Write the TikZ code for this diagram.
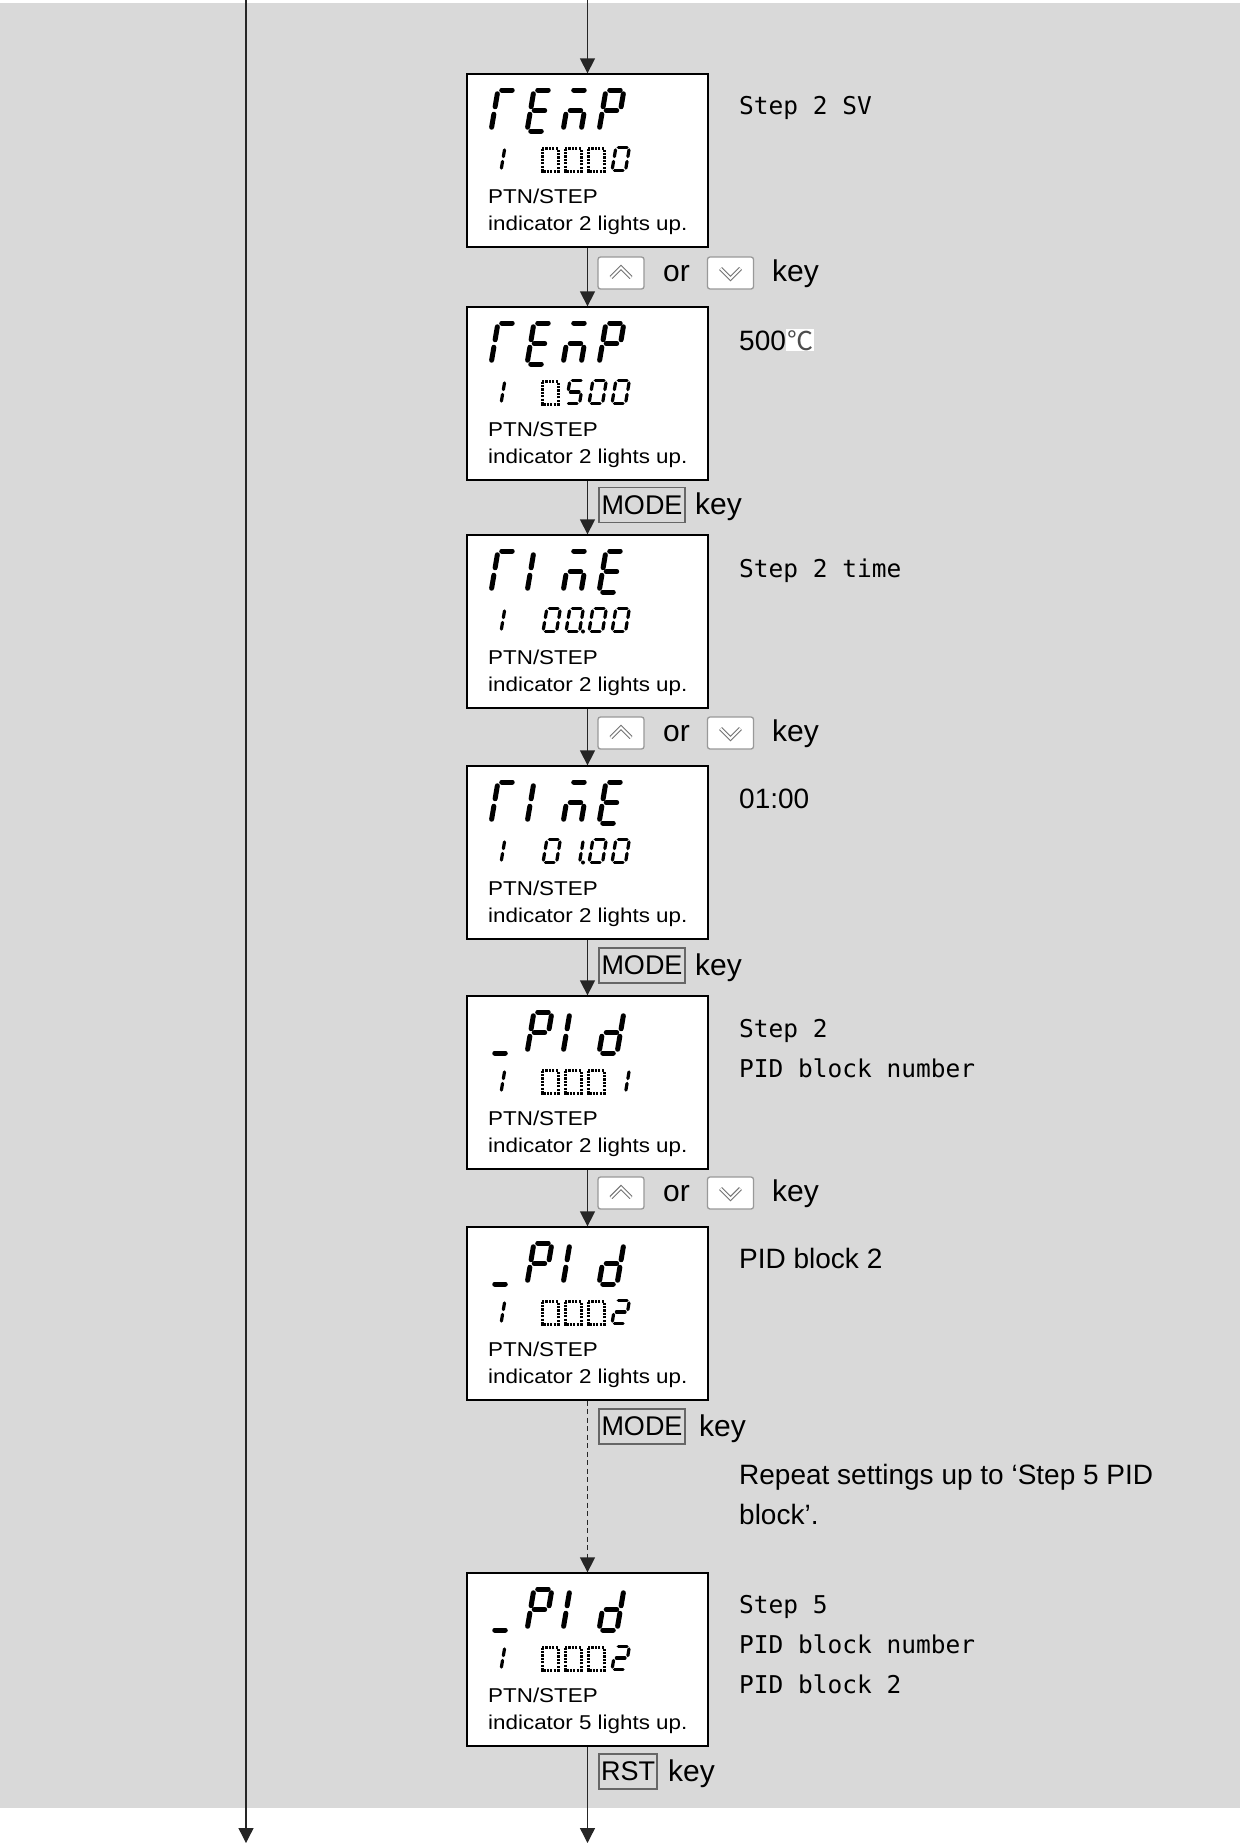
\documentclass[tikz,border=0pt]{standalone}
\usepackage{fontspec}
\setmainfont{Liberation Sans}
\newfontfamily\goth{DejaVu Sans Mono}
\newfontfamily\cjk{Noto Sans CJK JP}
\newfontfamily\boxf[FakeStretch=1.12]{Liberation Sans}
\usetikzlibrary{arrows.meta}
\definecolor{bggray}{HTML}{D9D9D9}

\def\segA{\draw (\G,-\H) -- (\W-\G,-\H);}
\def\segB{\draw (\W,-\H+\G) -- (\W,-\H/2-\G);}
\def\segC{\draw (\W,-\H/2+\G) -- (\W,-\G);}
\def\segD{\draw (\G,0) -- (\W-\G,0);}
\def\segE{\draw (0,-\G) -- (0,-\H/2+\G);}
\def\segF{\draw (0,-\H/2-\G) -- (0,-\H+\G);}
\def\segG{\draw (\G,-\H/2) -- (\W-\G,-\H/2);}
% x, y(bottom), width, height, thickness, segments
\newcommand\sevseg[6]{%
  \begin{scope}[shift={(#1,#2)},xslant=0.17,line width=#5pt,line cap=round]
    \def\W{#3}\def\H{#4}\pgfmathsetmacro\G{#5*0.75}%
    \foreach \s in {#6}{\csname seg\s\endcsname}
  \end{scope}}
\newcommand\bigch[2]{\sevseg{#1}{57}{18}{41}{5}{#2}}
\newcommand\smch[2]{\sevseg{#1}{96.5}{13.5}{23}{3.2}{#2}}
\newcommand\dotbox[1]{\draw[dotb] (#1+1,74.5) rectangle ++(16,22.5);}
\newcommand\dpt[1]{\fill (#1,96.5) circle[radius=2pt];}
\newcommand\boxtexts[1]{%
  \node[boxtxt] at (21,129) {PTN/STEP};
  \node[boxtxt] at (21,156) {indicator #1 lights up.};}

\tikzset{
  lcd/.style={draw=black, line width=1.3pt, fill=white, minimum width=241pt,
    minimum height=173pt, inner sep=0pt},
  arr/.style={draw=black!85, line width=1.3pt, -{Triangle[width=15pt,length=15pt]}},
  dotb/.style={line width=3pt, dash pattern=on 2.2pt off 1.2pt},
  boxtxt/.style={anchor=base west, inner sep=0pt, font=\boxf\fontsize{20pt}{20pt}\selectfont},
  rtxt/.style={anchor=base west, inner sep=0pt, font=\fontsize{28pt}{28pt}\selectfont},
  gtxt/.style={anchor=base west, inner sep=0pt, font=\goth\fontsize{24.5pt}{24.5pt}\selectfont},
  ktxt/.style={anchor=base west, inner sep=0pt, font=\fontsize{30pt}{30pt}\selectfont},
  keybox/.style={draw=black!40, fill=white, rounded corners=2.5pt, line width=1.3pt,
    minimum width=46pt, minimum height=32pt, inner sep=0pt},
  chev/.style={sharp corners, draw=black!55, line width=1.1pt, double=white,
    double distance=1.8pt, line join=miter},
  upkey/.style={keybox, path picture={\draw[chev]
    ([shift={(-10pt,-4.5pt)}]path picture bounding box.center) --
    ([shift={(0pt,5.5pt)}]path picture bounding box.center) --
    ([shift={(10pt,-4.5pt)}]path picture bounding box.center);}},
  downkey/.style={keybox, path picture={\draw[chev]
    ([shift={(-10pt,4.5pt)}]path picture bounding box.center) --
    ([shift={(0pt,-5.5pt)}]path picture bounding box.center) --
    ([shift={(10pt,4.5pt)}]path picture bounding box.center);}},
  modekey/.style={draw=black!60, fill=bggray, line width=1.5pt, inner sep=0pt,
    minimum height=35pt, font=\fontsize{27pt}{27pt}\selectfont},
}

\begin{document}
\begin{tikzpicture}[x=1pt,y=-1pt]
\useasboundingbox (0,0) rectangle (1240,1845);
\fill[white] (0,0) rectangle (1240,1845);
\fill[bggray] (0,3) rectangle (1240,1808);

% boxes
\node[lcd] (b1) at (587.5,160.5) {};
\node[lcd] (b2) at (587.5,393.5) {};
\node[lcd] (b3) at (587.5,621.5) {};
\node[lcd] (b4) at (587.5,852.5) {};
\node[lcd] (b5) at (587.5,1082.5) {};
\node[lcd] (b6) at (587.5,1313.5) {};
\node[lcd] (b7) at (587.5,1659.5) {};

% box 1: TEMP 1 0000
\begin{scope}[shift={(467,74)}]
  \bigch{24}{A,E,F}\bigch{60}{A,D,E,F,G}\bigch{96}{A,G,E,C}\bigch{132}{A,B,E,F,G}
  \smch{34}{E,F}
  \dotbox{74}\dotbox{97}\dotbox{120}\smch{145}{A,B,C,D,E,F}
  \boxtexts{2}
\end{scope}
% box 2: TEMP 1 0500
\begin{scope}[shift={(467,307)}]
  \bigch{24}{A,E,F}\bigch{60}{A,D,E,F,G}\bigch{96}{A,G,E,C}\bigch{132}{A,B,E,F,G}
  \smch{34}{E,F}
  \dotbox{74}\smch{99}{A,F,G,C,D}\smch{122}{A,B,C,D,E,F}\smch{145}{A,B,C,D,E,F}
  \boxtexts{2}
\end{scope}
% box 3: TIME 1 00.00
\begin{scope}[shift={(467,535)}]
  \bigch{24}{A,E,F}\bigch{60}{E,F}\bigch{96}{A,G,E,C}\bigch{132}{A,D,E,F,G}
  \smch{34}{E,F}
  \smch{76}{A,B,C,D,E,F}\smch{99}{A,B,C,D,E,F}\dpt{116}
  \smch{122}{A,B,C,D,E,F}\smch{145}{A,B,C,D,E,F}
  \boxtexts{2}
\end{scope}
% box 4: TIME 1 0 1.00
\begin{scope}[shift={(467,766)}]
  \bigch{24}{A,E,F}\bigch{60}{E,F}\bigch{96}{A,G,E,C}\bigch{132}{A,D,E,F,G}
  \smch{34}{E,F}
  \smch{76}{A,B,C,D,E,F}\smch{99}{B,C}\dpt{116}
  \smch{122}{A,B,C,D,E,F}\smch{145}{A,B,C,D,E,F}
  \boxtexts{2}
\end{scope}
% box 5: PID 1 0001
\begin{scope}[shift={(467,996)}]
  \bigch{24}{D}\bigch{60}{A,B,E,F,G}\bigch{96}{E,F}\bigch{132}{B,C,D,E,G}
  \smch{34}{E,F}
  \dotbox{74}\dotbox{97}\dotbox{120}\smch{145}{B,C}
  \boxtexts{2}
\end{scope}
% box 6: PID 1 0002
\begin{scope}[shift={(467,1227)}]
  \bigch{24}{D}\bigch{60}{A,B,E,F,G}\bigch{96}{E,F}\bigch{132}{B,C,D,E,G}
  \smch{34}{E,F}
  \dotbox{74}\dotbox{97}\dotbox{120}\smch{145}{A,B,G,E,D}
  \boxtexts{2}
\end{scope}
% box 7: PID 1 0002, indicator 5
\begin{scope}[shift={(467,1573)}]
  \bigch{24}{D}\bigch{60}{A,B,E,F,G}\bigch{96}{E,F}\bigch{132}{B,C,D,E,G}
  \smch{34}{E,F}
  \dotbox{74}\dotbox{97}\dotbox{120}\smch{145}{A,B,G,E,D}
  \boxtexts{5}
\end{scope}

% connectors
\coordinate (ltop) at (246,0);
\coordinate (lbot) at (246,1843);
\coordinate (mtop) at (587.5,0);
\coordinate (mbot) at (587.5,1843);
\draw[arr] (ltop) -- (lbot);
\draw[arr] (mtop) -- (b1.north);
\draw[arr] (b1.south) -- (b2.north);
\draw[arr] (b2.south) -- (b3.north);
\draw[arr] (b3.south) -- (b4.north);
\draw[arr] (b4.south) -- (b5.north);
\draw[arr] (b5.south) -- (b6.north);
\draw[arr, dash pattern=on 5pt off 3.5pt] (b6.south) -- (b7.north);
\draw[arr] (b7.south) -- (mbot);

% key rows
\node[upkey] (u1) at (621,273) {};
\node[ktxt] (o1) at (663,281) {or};
\node[downkey] (d1) at (730.5,273) {};
\node[ktxt] (k1) at (772,281) {key};

\node[modekey, minimum width=86pt] (m2) at (642,505) {MODE};
\node[ktxt] (k2) at (695,514) {key};

\node[upkey] (u3) at (621,733) {};
\node[ktxt] (o3) at (663,741) {or};
\node[downkey] (d3) at (730.5,733) {};
\node[ktxt] (k3) at (772,741) {key};

\node[modekey, minimum width=86pt] (m4) at (642,965.5) {MODE};
\node[ktxt] (k4) at (695,975) {key};

\node[upkey] (u5) at (621,1193) {};
\node[ktxt] (o5) at (663,1201) {or};
\node[downkey] (d5) at (730.5,1193) {};
\node[ktxt] (k5) at (772,1201) {key};

\node[modekey, minimum width=86pt] (m6) at (642,1426.5) {MODE};
\node[ktxt] (k6) at (699,1436) {key};

\node[modekey, minimum width=58pt] (r7) at (628,1771.5) {RST};
\node[ktxt] (k7) at (668,1781) {key};

% right-side texts
\node[gtxt] (t1) at (739,114) {Step 2 SV};
\node[rtxt] (t2) at (739,350) {500};
\node[fill=white, inner sep=1pt, anchor=base west, text=black!70,
  font=\cjk\fontsize{26pt}{26pt}\selectfont] (t2c) at (t2.base east) {℃};
\node[gtxt] (t3) at (739,577) {Step 2 time};
\node[rtxt] (t4) at (739,808) {01:00};
\node[gtxt] (t5a) at (739,1037) {Step 2};
\node[gtxt] (t5b) at (739,1077) {PID block number};
\node[rtxt] (t6) at (739,1268) {PID block 2};
\node[rtxt] (t7a) at (739,1484) {Repeat settings up to ‘Step 5 PID};
\node[rtxt] (t7b) at (739,1524) {block’.};
\node[gtxt] (t8a) at (739,1613) {Step 5};
\node[gtxt] (t8b) at (739,1653) {PID block number};
\node[gtxt] (t8c) at (739,1693) {PID block 2};
\end{tikzpicture}
\end{document}
